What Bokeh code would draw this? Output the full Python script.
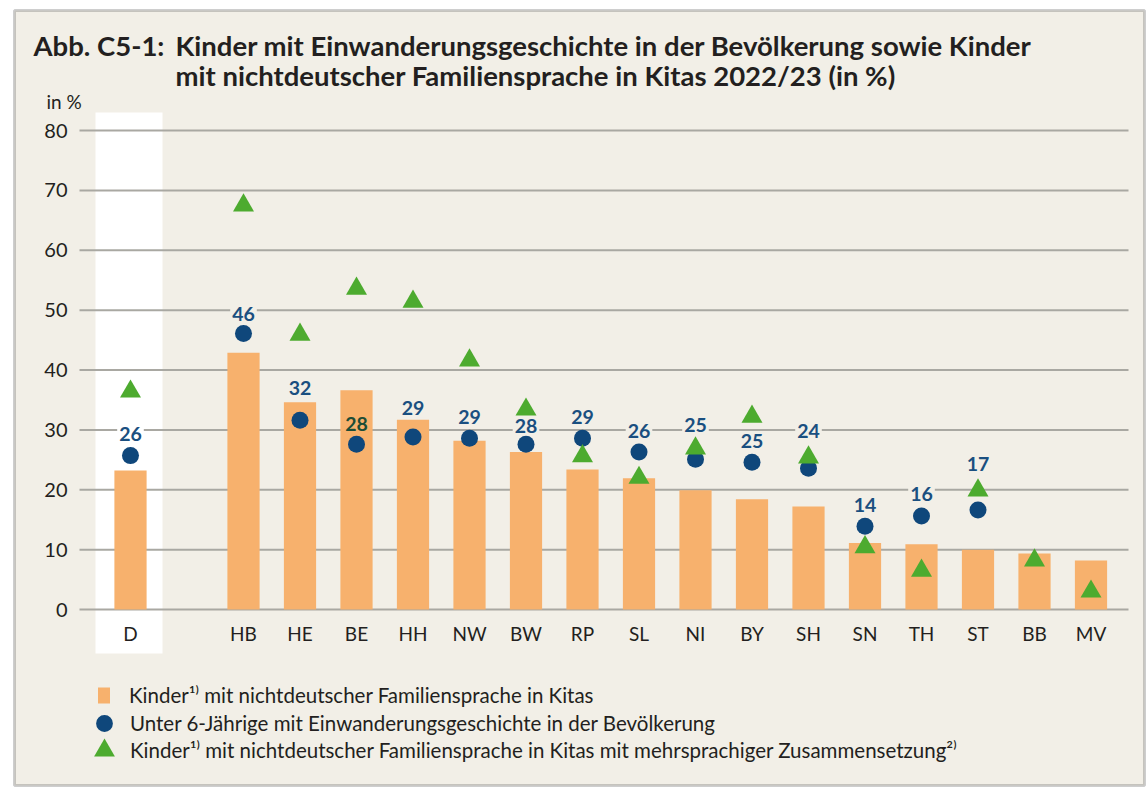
import math
from bokeh.plotting import figure
from bokeh.models import (Range1d, FixedTicker, BoxAnnotation, Label, Legend,
                          LegendItem, ColumnDataSource)
from bokeh.core.properties import value
from bokeh.embed import file_html
from bokeh.resources import INLINE

# ---------------- data ----------------
categories = ["D", "HB", "HE", "BE", "HH", "NW", "BW", "RP", "SL", "NI",
              "BY", "SH", "SN", "TH", "ST", "BB", "MV"]
kita_share = [23.2, 42.9, 34.6, 36.6, 31.7, 28.2, 26.3, 23.4, 21.9, 19.9,
              18.4, 17.2, 11.1, 10.9, 10.0, 9.35, 8.2]
population_share = [25.7, 46.1, 31.6, 27.6, 28.8, 28.6, 27.6, 28.6, 26.3, 25.1,
                    24.6, 23.6, 13.9, 15.6, 16.6, float("nan"), float("nan")]
multilingual_share = [36.4, 67.5, 45.9, 53.6, 51.4, 41.6, 33.4, 25.6, 22.0, 26.9,
                      32.2, 25.4, 10.4, 6.5, 19.9, 8.2, 3.0]
y_ticks = [0, 10, 20, 30, 40, 50, 60, 70, 80]

title_prefix = "Abb. C5-1:"
title_lines = ["Kinder mit Einwanderungsgeschichte in der Bevölkerung sowie Kinder",
               "mit nichtdeutscher Familiensprache in Kitas 2022/23 (in %)"]
y_unit = "in %"
legend_labels = [
    "Kinder\u00b9\u207e mit nichtdeutscher Familiensprache in Kitas",
    "Unter 6-Jährige mit Einwanderungsgeschichte in der Bevölkerung",
    "Kinder\u00b9\u207e mit nichtdeutscher Familiensprache in Kitas mit mehrsprachiger Zusammensetzung\u00b2\u207e",
]

# ---------------- styling / layout ----------------
BG = "#f2efe7"
ORANGE = "#f7b16d"
NAVY = "#0f477b"
GREEN = "#4dab2f"
LABEL_BLUE = "#1a4f80"
LABEL_GREEN = "#1d4d36"
GRID = "#a9a8a2"
TEXT = "#231f20"
FONT = "Lato"

W, H = 1147, 787
PX_CAT = 56.5          # pixels per category slot
PX_UNIT = 5.9875       # pixels per percentage point
X_ORIGIN = 130         # pixel of first category
Y_ORIGIN = 609         # pixel of value 0


def dx(px):
    return (px - X_ORIGIN) / PX_CAT


def dy(py):
    return (Y_ORIGIN - py) / PX_UNIT


# x positions: a gap after the national value "D"
x_pos = [0] + [i + 1 for i in range(1, len(categories))]

p = figure(width=W, height=H, output_backend="svg", toolbar_location=None,
           x_range=Range1d(dx(0), dx(W)), y_range=Range1d(dy(H), dy(0)),
           min_border=0)
p.background_fill_color = "white"
p.border_fill_color = "white"
p.outline_line_color = None
p.xgrid.visible = False
p.ygrid.visible = False

# outer panel with border
panel = BoxAnnotation(left=14, right=1144, top=H - 10, bottom=H - 785,
                      left_units="screen", right_units="screen",
                      top_units="screen", bottom_units="screen",
                      fill_color=BG, fill_alpha=1.0,
                      line_color="#5e5e5e", line_width=3, level="image")
p.add_layout(panel)

# white band behind national value
p.quad(left=[dx(95)], right=[dx(162)], bottom=[dy(653)], top=[dy(112)],
       fill_color="white", line_color=None)

# horizontal grid lines
p.segment(x0=[dx(79)] * len(y_ticks), x1=[dx(1128)] * len(y_ticks),
          y0=y_ticks, y1=y_ticks, line_color=GRID, line_width=2)

# axes (fixed inside the drawing area)
p.yaxis.fixed_location = dx(79)
p.yaxis.ticker = FixedTicker(ticks=y_ticks)
p.yaxis.axis_line_color = None
p.yaxis.major_tick_line_color = None
p.yaxis.major_tick_out = 0
p.yaxis.major_tick_in = 0
p.yaxis.minor_tick_line_color = None
p.yaxis.major_label_standoff = 12
p.yaxis.major_label_text_font = FONT
p.yaxis.major_label_text_font_size = "20px"
p.yaxis.major_label_text_color = TEXT

p.xaxis.fixed_location = 0
p.xaxis.ticker = FixedTicker(ticks=x_pos)
p.xaxis.major_label_overrides = {x: c for x, c in zip(x_pos, categories)}
p.xaxis.axis_line_color = None
p.xaxis.major_tick_line_color = None
p.xaxis.major_tick_out = 0
p.xaxis.major_tick_in = 0
p.xaxis.minor_tick_line_color = None
p.xaxis.major_label_standoff = 12
p.xaxis.major_label_text_font = FONT
p.xaxis.major_label_text_font_size = "19px"
p.xaxis.major_label_text_color = TEXT

# glyphs
src = ColumnDataSource(dict(x=x_pos, bar=kita_share, pop=population_share,
                            multi=multilingual_share))
r_bar = p.vbar(x="x", top="bar", bottom=0, width=0.57, source=src,
               fill_color=ORANGE, line_color=None)
r_dot = p.scatter(x="x", y="pop", source=src, marker="circle", size=17,
                  fill_color=NAVY, line_color=None)
r_tri = p.scatter(x="x", y="multi", source=src, marker="triangle", size=21,
                  fill_color=GREEN, line_color=None)

# value labels for population share
label_offset_px = [22, 19, 32, 20, 29, 21, 18, 21, 21, 34, 21, 37, 21, 22, 46]
lx, ly, lt, loff, lcol, lbg, lba = [], [], [], [], [], [], []
k = 0
for x, v, c in zip(x_pos, population_share, categories):
    if math.isnan(v):
        continue
    lx.append(x)
    ly.append(v)
    lt.append(str(int(math.floor(v + 0.5))))
    loff.append(-label_offset_px[k])
    lcol.append(LABEL_GREEN if c == "BE" else LABEL_BLUE)
    lbg.append("white" if c == "D" else BG)
    lba.append(0.0 if c == "BE" else 1.0)
    k += 1
lsrc = ColumnDataSource(dict(x=lx, y=ly, t=lt, off=loff, col=lcol, bg=lbg, ba=lba))
p.text(x="x", y="y", text="t", y_offset="off", source=lsrc,
       text_color="col", text_align="center", text_baseline="middle",
       text_font=value(FONT), text_font_style="bold", text_font_size="19.5px",
       background_fill_color="bg", background_fill_alpha="ba", padding=2)


# titles (screen units measured from the bottom-left corner)
def add_text(px, py, text, size, bold=False):
    p.add_layout(Label(x=px, y=H - py, x_units="screen", y_units="screen",
                       text=text, text_font=FONT,
                       text_font_style="bold" if bold else "normal",
                       text_font_size=size, text_color=TEXT,
                       text_baseline="alphabetic"))


add_text(33, 45, title_prefix, "27.5px", True)
add_text(175, 45, title_lines[0], "27.5px", True)
add_text(175, 75, title_lines[1], "27.5px", True)
add_text(46, 101, y_unit, "19px")


# legends (one per item to control glyph sizes)
def make_legend(item_label, renderer, gw, gh, standoff, left, bottom):
    lg = Legend(items=[LegendItem(label=item_label, renderers=[renderer])],
                location=(left, H - bottom), orientation="vertical",
                glyph_width=gw, glyph_height=gh, label_height=20,
                label_standoff=standoff, padding=0, margin=0, spacing=0,
                border_line_color=None, background_fill_alpha=0,
                label_text_font=FONT, label_text_font_size="20.5px",
                label_text_color=TEXT)
    p.add_layout(lg)


make_legend(legend_labels[0], r_bar, 15, 20, 18, 96, 707)
make_legend(legend_labels[1], r_dot, 42, 42, 5, 83, 744)
make_legend(legend_labels[2], r_tri, 52, 52, 0, 78, 776)

open("out.html", "w").write(file_html(p, INLINE))
